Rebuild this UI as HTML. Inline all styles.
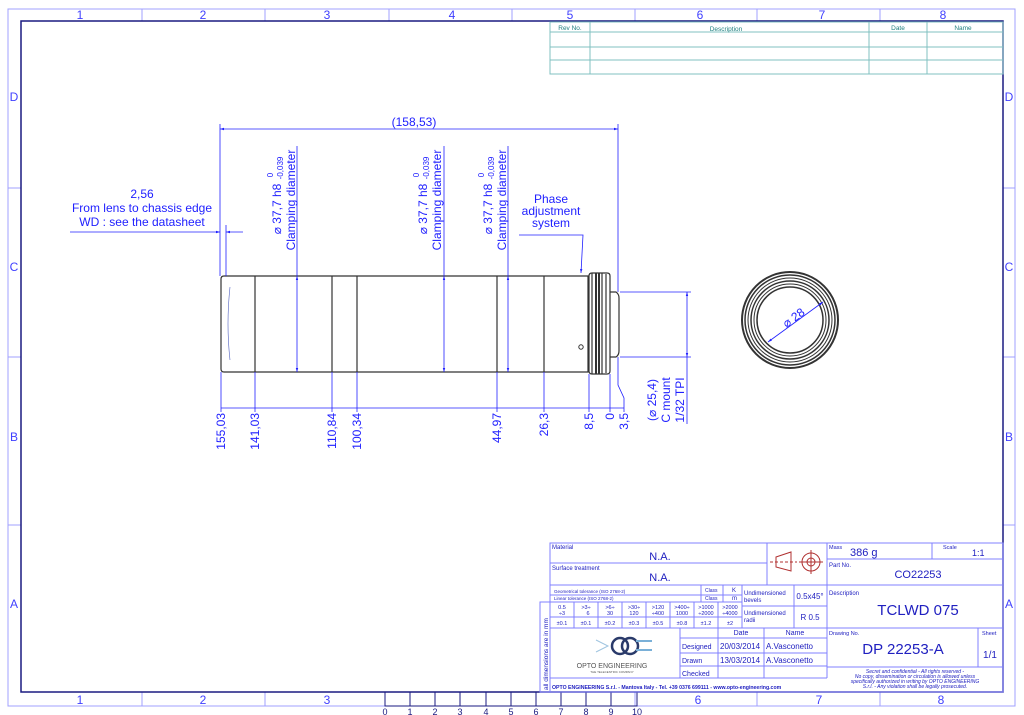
<!DOCTYPE html>
<html><head><meta charset="utf-8"><style>
html,body{margin:0;padding:0;background:#fff;}
svg{display:block;font-family:"Liberation Sans",sans-serif;}
</style></head><body>
<svg width="1024" height="715" viewBox="0 0 1024 715" xmlns="http://www.w3.org/2000/svg">
<defs>
<marker id="a" viewBox="0 0 10 10" refX="10" refY="5" markerWidth="7" markerHeight="5" orient="auto-start-reverse"><path d="M0,2 L10,5 L0,8 z" fill="#2020ff"/></marker>
</defs>
<rect width="1024" height="715" fill="#fff"/>
<!-- frame -->
<g stroke="#a0a0ff" fill="none" stroke-width="1">
<rect x="8" y="9" width="1007" height="697"/>
<line x1="142" y1="9" x2="142" y2="21"/><line x1="265" y1="9" x2="265" y2="21"/><line x1="389" y1="9" x2="389" y2="21"/><line x1="512" y1="9" x2="512" y2="21"/><line x1="635" y1="9" x2="635" y2="21"/><line x1="757" y1="9" x2="757" y2="21"/><line x1="880" y1="9" x2="880" y2="21"/>
<line x1="142" y1="692" x2="142" y2="706"/><line x1="265" y1="692" x2="265" y2="706"/><line x1="635" y1="692" x2="635" y2="706"/><line x1="757" y1="692" x2="757" y2="706"/><line x1="880" y1="692" x2="880" y2="706"/>
<line x1="8" y1="188" x2="21" y2="188"/><line x1="8" y1="357" x2="21" y2="357"/><line x1="8" y1="525" x2="21" y2="525"/>
<line x1="1003" y1="188" x2="1015" y2="188"/><line x1="1003" y1="357" x2="1015" y2="357"/><line x1="1003" y1="525" x2="1015" y2="525"/>
</g>
<rect x="21" y="21" width="982" height="671" fill="none" stroke="#1a1a80" stroke-width="1.5"/>
<g fill="#4040ff" font-size="12" text-anchor="middle">
<text x="80" y="19">1</text><text x="203" y="19">2</text><text x="327" y="19">3</text><text x="452" y="19">4</text><text x="570" y="19">5</text><text x="700" y="19">6</text><text x="822" y="19">7</text><text x="943" y="19">8</text>
<text x="80" y="704">1</text><text x="203" y="704">2</text><text x="327" y="704">3</text><text x="698" y="704">6</text><text x="819" y="704">7</text><text x="941" y="704">8</text>
<text x="14" y="101">D</text><text x="14" y="271">C</text><text x="14" y="441">B</text><text x="14" y="608">A</text>
<text x="1009" y="101">D</text><text x="1009" y="271">C</text><text x="1009" y="441">B</text><text x="1009" y="608">A</text>
</g>
<!-- ruler -->
<g stroke="#1a1a80" fill="none"><rect x="385" y="692" width="252" height="14"/>
<line x1="410" y1="692" x2="410" y2="706"/><line x1="435" y1="692" x2="435" y2="706"/><line x1="460" y1="692" x2="460" y2="706"/><line x1="486" y1="692" x2="486" y2="706"/><line x1="511" y1="692" x2="511" y2="706"/><line x1="536" y1="692" x2="536" y2="706"/><line x1="561" y1="692" x2="561" y2="706"/><line x1="586" y1="692" x2="586" y2="706"/><line x1="611" y1="692" x2="611" y2="706"/></g>
<g fill="#1a1a80" font-size="9" text-anchor="middle"><text x="385" y="715">0</text><text x="410" y="715">1</text><text x="435" y="715">2</text><text x="460" y="715">3</text><text x="486" y="715">4</text><text x="511" y="715">5</text><text x="536" y="715">6</text><text x="561" y="715">7</text><text x="586" y="715">8</text><text x="611" y="715">9</text><text x="637" y="715">10</text></g>
<!-- rev table -->
<g stroke="#80c0c0" fill="none">
<rect x="550" y="22" width="453" height="52"/>
<line x1="550" y1="32" x2="1003" y2="32"/><line x1="550" y1="47" x2="1003" y2="47"/><line x1="550" y1="60" x2="1003" y2="60"/>
<line x1="590" y1="22" x2="590" y2="74"/><line x1="869" y1="22" x2="869" y2="74"/><line x1="927" y1="22" x2="927" y2="74"/>
</g>
<g fill="#208080" font-size="6.5" text-anchor="middle"><text x="570" y="30">Rev No.</text><text x="726" y="31">Description</text><text x="898" y="30">Date</text><text x="963" y="30">Name</text></g>
<!-- part body -->
<g stroke="#333" fill="none" stroke-width="1.2">
<path d="M224,276 L588,276 L588,372 L224,372 Q221,372 221,369 L221,279 Q221,276 224,276 Z"/>
<line x1="255" y1="276" x2="255" y2="372"/><line x1="332" y1="276" x2="332" y2="372"/><line x1="357" y1="276" x2="357" y2="372"/><line x1="497" y1="276" x2="497" y2="372"/><line x1="544" y1="276" x2="544" y2="372"/>
<path d="M592,273 L607,273 Q610,273 610,276 L610,371 Q610,374 607,374 L592,374 Q589,374 589,371 L589,276 Q589,273 592,273 Z"/>
<line x1="592" y1="273" x2="592" y2="374"/><line x1="602" y1="273" x2="602" y2="374"/><line x1="606" y1="274" x2="606" y2="373"/>
<line x1="596" y1="273" x2="596" y2="374" stroke-width="2"/><line x1="599" y1="273" x2="599" y2="374" stroke-width="2"/>
<path d="M610,292 L616,292 Q619,294 619,298 L619,351 Q619,355 616,357 L610,357"/>
<circle cx="581" cy="347" r="2.2" stroke-width="1"/>
<path d="M230,287 Q226,324 230,360" stroke-width="0.6" stroke="#5060c0"/>
</g>
<!-- end view -->
<g fill="none" stroke="#333">
<circle cx="790" cy="320" r="48" stroke-width="2"/>
<circle cx="790" cy="320" r="45" stroke-width="1.5"/>
<circle cx="790" cy="320" r="42" stroke-width="1"/>
<circle cx="790" cy="320" r="39" stroke-width="1.5"/>
<circle cx="790" cy="320" r="36" stroke-width="1"/>
<circle cx="790" cy="320" r="33" stroke-width="1.5"/>
</g>
<line x1="768" y1="342" x2="823" y2="302" stroke="#2020ff" stroke-width="0.8" marker-start="url(#a)" marker-end="url(#a)"/>
<text x="0" y="0" transform="translate(796,321) rotate(-36)" fill="#2020ff" font-size="12" text-anchor="middle">⌀ 28</text>
<!-- dimensions -->
<g stroke="#2020ff" stroke-width="0.8" fill="none">
<line x1="220" y1="124" x2="220" y2="276"/><line x1="618" y1="124" x2="618" y2="292"/>
<line x1="220" y1="129" x2="618" y2="129" marker-start="url(#a)" marker-end="url(#a)"/>
<line x1="226" y1="225" x2="226" y2="276"/>
<line x1="70" y1="232" x2="220" y2="232" marker-end="url(#a)"/><line x1="243" y1="232" x2="226" y2="232" marker-end="url(#a)"/>
<line x1="297" y1="146" x2="297" y2="276"/><line x1="297" y1="276" x2="297" y2="372" marker-start="url(#a)" marker-end="url(#a)"/>
<line x1="444" y1="146" x2="444" y2="276"/><line x1="444" y1="276" x2="444" y2="372" marker-start="url(#a)" marker-end="url(#a)"/>
<line x1="508" y1="146" x2="508" y2="276"/><line x1="508" y1="276" x2="508" y2="372" marker-start="url(#a)" marker-end="url(#a)"/>
<path d="M519,235 L583,235 L581,273" marker-end="url(#a)"/>
<line x1="221" y1="372" x2="221" y2="412"/><line x1="255" y1="372" x2="255" y2="412"/><line x1="332" y1="372" x2="332" y2="412"/><line x1="357" y1="372" x2="357" y2="412"/><line x1="497" y1="372" x2="497" y2="412"/><line x1="544" y1="372" x2="544" y2="412"/><line x1="589" y1="374" x2="589" y2="412"/><line x1="610" y1="374" x2="610" y2="412"/>
<path d="M618,357 L618,385 L624,398 L624,412"/>
<line x1="221" y1="408" x2="624" y2="408"/>
<line x1="620" y1="292" x2="691" y2="292"/><line x1="620" y1="357" x2="691" y2="357"/>
<line x1="687" y1="292" x2="687" y2="357" marker-start="url(#a)" marker-end="url(#a)"/>
<line x1="687" y1="357" x2="687" y2="424"/>
</g>
<g fill="#2020ff" font-size="12" text-anchor="middle">
<text x="414" y="126">(158,53)</text>
<text x="142" y="198">2,56</text>
<text x="142" y="212">From lens to chassis edge</text>
<text x="142" y="226">WD : see the datasheet</text>
<text x="551" y="203">Phase</text><text x="551" y="215">adjustment</text><text x="551" y="227">system</text>
<text transform="translate(295,200) rotate(-90)">Clamping diameter</text>
<text transform="translate(281,209) rotate(-90)">⌀ 37,7 h8</text>
<text transform="translate(273,175) rotate(-90)" font-size="8">0</text>
<text transform="translate(283,168) rotate(-90)" font-size="8">-0,039</text>
<text transform="translate(441,200) rotate(-90)">Clamping diameter</text>
<text transform="translate(427,209) rotate(-90)">⌀ 37,7 h8</text>
<text transform="translate(419,175) rotate(-90)" font-size="8">0</text>
<text transform="translate(429,168) rotate(-90)" font-size="8">-0,039</text>
<text transform="translate(506,200) rotate(-90)">Clamping diameter</text>
<text transform="translate(492,209) rotate(-90)">⌀ 37,7 h8</text>
<text transform="translate(484,175) rotate(-90)" font-size="8">0</text>
<text transform="translate(494,168) rotate(-90)" font-size="8">-0,039</text>
<g text-anchor="end">
<text transform="translate(225,413) rotate(-90)">155,03</text>
<text transform="translate(259,413) rotate(-90)">141,03</text>
<text transform="translate(336,413) rotate(-90)">110,84</text>
<text transform="translate(361,413) rotate(-90)">100,34</text>
<text transform="translate(501,413) rotate(-90)">44,97</text>
<text transform="translate(548,413) rotate(-90)">26,3</text>
<text transform="translate(593,413) rotate(-90)">8,5</text>
<text transform="translate(614,413) rotate(-90)">0</text>
<text transform="translate(628,413) rotate(-90)">3,5</text>
</g>
<text transform="translate(656,400) rotate(-90)">(⌀ 25,4)</text>
<text transform="translate(670,400) rotate(-90)">C mount</text>
<text transform="translate(684,400) rotate(-90)">1/32 TPI</text>
</g>
<!-- title block -->
<g stroke="#8080ff" fill="none" stroke-width="1">
<rect x="550" y="543" width="453" height="149"/>
<rect x="540" y="602" width="10" height="90"/>
<line x1="550" y1="563" x2="767" y2="563"/><line x1="550" y1="585" x2="1003" y2="585"/>
<line x1="767" y1="543" x2="767" y2="585"/><line x1="827" y1="543" x2="827" y2="678"/>
<line x1="827" y1="559" x2="1003" y2="559"/><line x1="932" y1="543" x2="932" y2="559"/>
<line x1="550" y1="595" x2="742" y2="595"/><line x1="550" y1="602" x2="742" y2="602"/><line x1="550" y1="617" x2="742" y2="617"/>
<line x1="742" y1="606" x2="827" y2="606"/>
<line x1="550" y1="628" x2="1003" y2="628"/>
<line x1="574" y1="602" x2="574" y2="628"/><line x1="598" y1="602" x2="598" y2="628"/><line x1="622" y1="602" x2="622" y2="628"/><line x1="646" y1="602" x2="646" y2="628"/><line x1="670" y1="602" x2="670" y2="628"/><line x1="694" y1="602" x2="694" y2="628"/><line x1="718" y1="602" x2="718" y2="628"/>
<line x1="701" y1="585" x2="701" y2="602"/><line x1="723" y1="585" x2="723" y2="602"/><line x1="742" y1="585" x2="742" y2="628"/><line x1="794" y1="585" x2="794" y2="628"/>
<line x1="680" y1="628" x2="680" y2="678"/><line x1="718" y1="628" x2="718" y2="678"/><line x1="764" y1="628" x2="764" y2="678"/>
<line x1="680" y1="638" x2="827" y2="638"/><line x1="680" y1="653" x2="827" y2="653"/><line x1="680" y1="666" x2="827" y2="666"/>
<line x1="550" y1="678" x2="827" y2="678"/>
<line x1="827" y1="667" x2="1003" y2="667"/><line x1="978" y1="628" x2="978" y2="667"/>
</g>
<!-- symbol -->
<g stroke="#b03030" fill="none" stroke-width="1">
<path d="M776,557 L791,552 L791,571 L776,567 Z"/><line x1="770" y1="562" x2="797" y2="562" stroke-dasharray="3,2"/>
<circle cx="811" cy="562" r="9"/><circle cx="811" cy="562" r="4"/><line x1="799" y1="562" x2="823" y2="562"/><line x1="811" y1="550" x2="811" y2="574"/>
</g>
<g fill="#2020c0" font-family="Liberation Sans, sans-serif">
<text x="552" y="549" font-size="6">Material</text>
<text x="660" y="560" font-size="11" text-anchor="middle">N.A.</text>
<text x="552" y="570" font-size="6">Surface treatment</text>
<text x="660" y="581" font-size="11" text-anchor="middle">N.A.</text>
<text x="554" y="593" font-size="4.5">Geometrical tolerance (ISO 2768-2)</text>
<text x="554" y="600" font-size="4.5">Linear tolerance (ISO 2768-2)</text>
<text x="705" y="592" font-size="5">Class</text><text x="732" y="592" font-size="6">K</text>
<text x="705" y="600" font-size="5">Class</text><text x="732" y="600" font-size="6">m</text>
<text x="744" y="595" font-size="6">Undimensioned</text><text x="744" y="602" font-size="6">bevels</text>
<text x="810" y="599" font-size="8" text-anchor="middle">0.5x45°</text>
<text x="744" y="615" font-size="6">Undimensioned</text><text x="744" y="622" font-size="6">radii</text>
<text x="810" y="620" font-size="8" text-anchor="middle">R 0.5</text>
<g font-size="5.5" text-anchor="middle">
<text x="562" y="609">0.5</text><text x="562" y="615">÷3</text>
<text x="586" y="609">&gt;3÷</text><text x="588" y="615">6</text>
<text x="610" y="609">&gt;6÷</text><text x="610" y="615">30</text>
<text x="634" y="609">&gt;30÷</text><text x="634" y="615">120</text>
<text x="658" y="609">&gt;120</text><text x="658" y="615">÷400</text>
<text x="682" y="609">&gt;400÷</text><text x="682" y="615">1000</text>
<text x="706" y="609">&gt;1000</text><text x="706" y="615">÷2000</text>
<text x="730" y="609">&gt;2000</text><text x="730" y="615">÷4000</text>
<text x="562" y="625">±0.1</text><text x="586" y="625">±0.1</text><text x="610" y="625">±0.2</text><text x="634" y="625">±0.3</text><text x="658" y="625">±0.5</text><text x="682" y="625">±0.8</text><text x="706" y="625">±1.2</text><text x="730" y="625">±2</text>
</g>
<text transform="translate(548,690) rotate(-90)" font-size="6.5">all dimensions are in mm</text>
<text x="829" y="549" font-size="5.5">Mass</text>
<text x="850" y="556" font-size="11">386 g</text>
<text x="943" y="549" font-size="5.5">Scale</text>
<text x="972" y="556" font-size="9">1:1</text>
<text x="829" y="567" font-size="6">Part No.</text>
<text x="918" y="578" font-size="11" text-anchor="middle">CO22253</text>
<text x="829" y="595" font-size="6">Description</text>
<text x="918" y="615" font-size="15" text-anchor="middle">TCLWD 075</text>
<text x="829" y="635" font-size="5.5">Drawing No.</text>
<text x="903" y="654" font-size="15" text-anchor="middle">DP 22253-A</text>
<text x="982" y="635" font-size="5.5">Sheet</text>
<text x="990" y="658" font-size="10" text-anchor="middle">1/1</text>
<text x="741" y="635" font-size="7" text-anchor="middle">Date</text>
<text x="795" y="635" font-size="7" text-anchor="middle">Name</text>
<text x="682" y="649" font-size="7">Designed</text><text x="720" y="649" font-size="8">20/03/2014</text><text x="766" y="649" font-size="8">A.Vasconetto</text>
<text x="682" y="663" font-size="7">Drawn</text><text x="720" y="663" font-size="8">13/03/2014</text><text x="766" y="663" font-size="8">A.Vasconetto</text>
<text x="682" y="676" font-size="7">Checked</text>
<g font-size="5" font-style="italic" text-anchor="middle">
<text x="915" y="673">Secret and confidential - All rights reserved -</text>
<text x="915" y="678">No copy, dissemination or circulation is allowed unless</text>
<text x="915" y="683">specifically authorized in writing by OPTO ENGINEERING</text>
<text x="915" y="688">S.r.l. - Any violation shall be legally prosecuted.</text>
</g>
<text x="552" y="689" font-size="5.2" font-weight="bold">OPTO ENGINEERING S.r.l.  -  Mantova Italy -  Tel. +39 0376 699111  -  www.opto-engineering.com</text>
<text x="612" y="668" font-size="7" text-anchor="middle" fill="#555">OPTO ENGINEERING</text>
<text x="612" y="673" font-size="3" text-anchor="middle" fill="#555">THE TELECENTRIC COMPANY</text>
</g>
<!-- logo -->
<g fill="none">
<circle cx="620" cy="646" r="8" stroke="#2a3a6a" stroke-width="2.5"/>
<circle cx="630" cy="646" r="8" stroke="#2a3a6a" stroke-width="2.5"/>
<line x1="636" y1="641" x2="652" y2="641" stroke="#7ab0d8" stroke-width="2"/>
<line x1="636" y1="650" x2="652" y2="650" stroke="#7ab0d8" stroke-width="2"/>
<path d="M596,640 L608,646 L596,652" stroke="#9fc4e0" stroke-width="1"/>
</g>
</svg>
</body></html>
